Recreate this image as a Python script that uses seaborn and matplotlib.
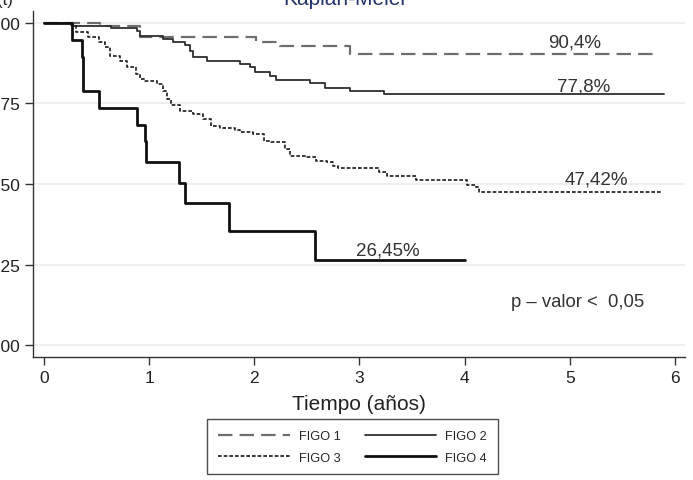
import numpy as np
import pandas as pd
import seaborn as sns
import matplotlib.pyplot as plt
from matplotlib.lines import Line2D

# Kaplan-Meier curves (time in years, survival proportion)
figo1_t = [0, 0.53, 0.91, 2.02, 2.24, 2.91, 5.84]
figo1_s = [1.0, 0.992, 0.957, 0.942, 0.928, 0.904, 0.904]

figo2_t = [0, 0.27, 0.64, 0.88, 0.91, 1.13, 1.23, 1.34, 1.39, 1.42, 1.55, 1.86,
           1.96, 2.01, 2.15, 2.21, 2.53, 2.67, 2.91, 3.23, 5.90]
figo2_s = [1.0, 0.99, 0.984, 0.976, 0.961, 0.950, 0.940, 0.930, 0.914, 0.893, 0.883, 0.873,
           0.862, 0.847, 0.836, 0.823, 0.813, 0.798, 0.788, 0.778, 0.778]

figo3_t = [0, 0.26, 0.30, 0.42, 0.52, 0.58, 0.63, 0.72, 0.79, 0.87, 0.91, 0.96, 1.07, 1.13,
           1.17, 1.21, 1.29, 1.42, 1.51, 1.59, 1.67, 1.82, 1.86, 1.99, 2.09, 2.16, 2.29, 2.34,
           2.50, 2.59, 2.69, 2.75, 2.80, 3.19, 3.26, 3.54, 4.02, 4.11, 4.14, 5.87]
figo3_s = [1.0, 0.993, 0.973, 0.956, 0.940, 0.925, 0.897, 0.883, 0.862, 0.842, 0.826, 0.819,
           0.811, 0.790, 0.764, 0.745, 0.728, 0.717, 0.702, 0.681, 0.673, 0.669, 0.663, 0.655,
           0.634, 0.629, 0.609, 0.588, 0.583, 0.572, 0.567, 0.557, 0.550, 0.538, 0.526, 0.513,
           0.497, 0.490, 0.4742, 0.4742]

figo4_t = [0, 0.27, 0.36, 0.37, 0.52, 0.88, 0.96, 0.97, 1.28, 1.34, 1.76, 2.58, 4.0]
figo4_s = [1.0, 0.947, 0.895, 0.789, 0.737, 0.684, 0.632, 0.567, 0.504, 0.441, 0.353,
           0.2645, 0.2645]

labels = ["FIGO 1", "FIGO 2", "FIGO 3", "FIGO 4"]
final_txt = ["90,4%", "77,8%", "47,42%", "26,45%"]
final_pos = [(5.05, 0.941), (5.13, 0.805), (5.25, 0.516), (3.27, 0.296)]

sns.set_style("ticks")
plt.rcParams['font.family'] = ['Liberation Sans', 'DejaVu Sans']

fig = plt.figure(figsize=(6.93, 4.81), dpi=100)
ax = fig.add_axes([0.0476, 0.2557, 0.9408, 0.7193])

styles = {
    "FIGO 1": dict(color="#6e6e6e", linewidth=1.6, linestyle=(0, (6.5, 3.2))),
    "FIGO 2": dict(color="#2e2e2e", linewidth=1.3, linestyle="-"),
    "FIGO 3": dict(color="#1a1a1a", linewidth=1.2, linestyle=(0, (2.2, 1.2))),
    "FIGO 4": dict(color="#111111", linewidth=2.0, linestyle="-"),
}

series = [(figo1_t, figo1_s), (figo2_t, figo2_s), (figo3_t, figo3_s), (figo4_t, figo4_s)]
for lab, (t, s) in zip(labels, series):
    df = pd.DataFrame({"t": t, "s": s})
    sns.lineplot(data=df, x="t", y="s", ax=ax, drawstyle="steps-post",
                 estimator=None, legend=False, **styles[lab])

for txt, (x, y) in zip(final_txt, final_pos):
    ax.text(x, y, txt, ha="center", va="center", fontsize=13.5, color="#333333")
ax.text(5.07, 0.134, "p \u2013 valor <  0,05", ha="center", va="center",
        fontsize=13.3, color="#333333")

ax.set_xlim(-0.105, 6.095)
ax.set_ylim(-0.037, 1.037)
ax.set_xticks(range(7))
ax.set_yticks([0, 0.25, 0.5, 0.75, 1.0])
ax.set_yticklabels(["0.00", "0.25", "0.50", "0.75", "1.00"])
ax.yaxis.grid(True, color="#eaeeee", linewidth=1.2)
ax.set_axisbelow(True)
sns.despine(ax=ax)
for sp in ["left", "bottom"]:
    ax.spines[sp].set_color("#333333")
    ax.spines[sp].set_linewidth(1.0)
ax.tick_params(axis="both", length=6, width=1, color="#333333", labelsize=12.5,
               labelcolor="#222222", pad=3)
ax.set_xlabel("Tiempo (años)", fontsize=15, color="#222222", labelpad=7)
ax.set_ylabel("")

fig.text(0.498, 1 - 5 / 481, "Kaplan-Meier", ha="center", va="baseline",
         fontsize=15, color="#23336b")
fig.text(0.0, 1 - 5 / 481, "S(t)", ha="center", va="baseline", fontsize=12, color="#222222")

handles = [Line2D([], [], **styles[l]) for l in labels]
order = [0, 2, 1, 3]
leg = fig.legend([handles[i] for i in order], [labels[i] for i in order], ncol=2,
                 loc="center", bbox_to_anchor=(0.509, 0.069), fontsize=9.2,
                 handlelength=5.6, columnspacing=1.9, handletextpad=0.7,
                 fancybox=False, frameon=True, borderpad=0.85, labelspacing=0.75)
leg.get_frame().set_edgecolor("#222222")
leg.get_frame().set_linewidth(1.0)

fig.savefig("out.png", dpi=100)
